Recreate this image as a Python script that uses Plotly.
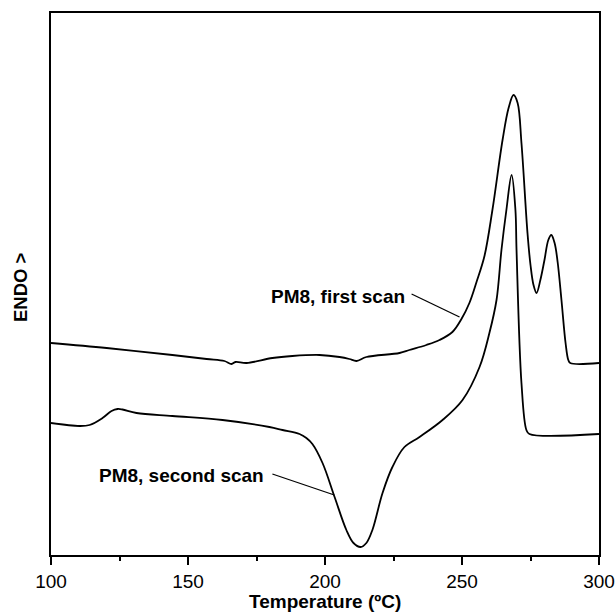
import plotly.graph_objects as go

# First scan (temperature in degC, heat flow in arbitrary units, endo up)
t_first = [100.0, 120.3, 144.3, 156.8, 163.3, 165.9, 167.3, 171.4, 180.8, 188.1,
           198.0, 205.3, 208.9, 211.5, 215.1, 227.2, 230.8, 237.0, 241.8, 246.5,
           249.8, 252.7, 255.3, 258.2, 261.1, 264.8, 267.0, 268.8, 270.3, 271.7,
           273.9, 275.0, 276.1, 277.2, 278.6, 280.1, 281.5, 282.6, 283.8, 284.9,
           286.3, 287.8, 288.8, 289.5, 300.0]
v_first = [212, 207, 200, 196, 194, 191, 193, 192, 197, 199,
           200, 198, 196, 194, 198, 202, 205, 210, 215, 223,
           236, 252, 273, 299, 345, 415, 447, 460, 452, 412,
           322, 290, 270, 262, 275, 295, 315, 320, 312, 293,
           255, 212, 195, 192, 192]

# Second scan
t_second = [100.0, 110.4, 114.1, 118.8, 122.1, 124.3, 126.1, 131.2, 144.3, 162.6,
            179.7, 184.5, 190.7, 193.2, 195.4, 199.1, 203.5, 207.8, 210.4, 213.0, 215.1,
            217.3, 221.0, 224.6, 229.0, 234.5, 242.9, 250.2, 256.4, 260.0, 262.6,
            264.4, 266.2, 268.1, 269.5, 269.9, 271.7, 273.5, 274.6, 300.0]
v_second = [132, 129, 130, 137, 144, 146, 145.5, 142, 139, 135,
            128, 125, 121, 117, 111, 92, 58, 25, 12, 8, 12,
            25, 62, 88, 108, 118, 135, 155, 188, 222, 255,
            305, 345, 380, 345, 305, 172, 125, 121, 121]

x_ticks = [100, 150, 200, 250, 300]
FONT = "Arial, Liberation Sans, sans-serif"

fig = go.Figure()
for t, v in ((t_first, v_first), (t_second, v_second)):
    fig.add_trace(go.Scatter(x=t, y=v, mode="lines",
                             line=dict(color="black", width=1.8, shape="spline", smoothing=1.0),
                             showlegend=False))

fig.update_layout(
    width=616, height=612,
    margin=dict(l=51, r=17, t=13, b=57),
    paper_bgcolor="white", plot_bgcolor="white",
    font=dict(family=FONT, color="black", size=19),
    xaxis=dict(range=[100, 300], tickvals=x_ticks, ticktext=[str(v) for v in x_ticks],
               ticks="outside", ticklen=8, tickwidth=1.5, tickcolor="black",
               minor=dict(dtick=25, tick0=100, ticks="outside", ticklen=4, tickwidth=1.5, tickcolor="black"),
               showline=True, linecolor="black", linewidth=1.5, mirror=True,
               showgrid=False, zeroline=False, automargin=False,
               tickfont=dict(size=19)),
    yaxis=dict(range=[0, 542], showticklabels=False, ticks="",
               showline=True, linecolor="black", linewidth=1.5, mirror=True,
               showgrid=False, zeroline=False, automargin=False),
    annotations=[
        dict(text="<b>Temperature (ºC)</b>", xref="paper", yref="paper", x=0.5, y=-0.085,
             yanchor="middle", showarrow=False, font=dict(size=19)),
        dict(text="<b>ENDO ></b>", xref="paper", yref="paper", x=-0.057, y=0.494,
             xanchor="center", yanchor="middle",
             textangle=-90, showarrow=False, font=dict(size=18.5)),
        dict(text="<b>PM8, first scan</b>", xref="x", yref="y", x=204.6, y=259,
             showarrow=False, font=dict(size=19)),
        dict(text="<b>PM8, second scan</b>", xref="x", yref="y", x=147.8, y=80,
             showarrow=False, font=dict(size=19)),
    ],
    shapes=[
        dict(type="line", xref="x", yref="y", x0=231.6, y0=261, x1=249.1, y1=238,
             line=dict(color="black", width=1.3)),
        dict(type="line", xref="x", yref="y", x0=180.8, y0=81, x1=203.4, y1=60,
             line=dict(color="black", width=1.3)),
    ],
)

fig.write_html("out.html")
